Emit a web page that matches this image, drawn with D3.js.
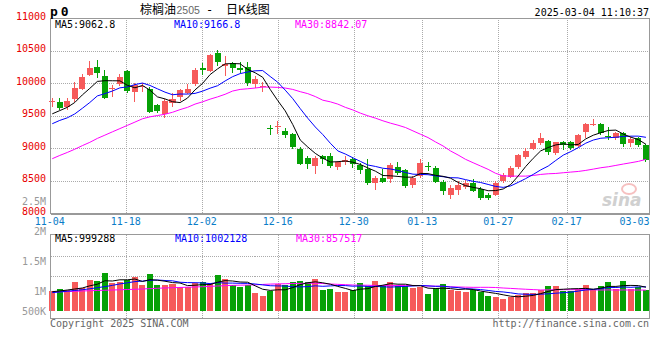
<!DOCTYPE html>
<html><head><meta charset="utf-8">
<script src="https://cdn.jsdelivr.net/npm/d3@7"></script>
<style>body{margin:0;background:#fff}svg{display:block}</style>
</head><body>
<svg id="c" width="660" height="360"></svg>
<script>
const dates = ["11-04","11-05","11-06","11-07","11-08","11-11","11-12","11-13","11-14","11-15","11-18","11-19","11-20","11-21","11-22","11-25","11-26","11-27","11-28","11-29",
"12-02","12-03","12-04","12-05","12-06","12-09","12-10","12-11","12-12","12-13","12-16","12-17","12-18","12-19","12-20","12-23","12-24","12-25","12-26","12-27","12-30","12-31",
"01-02","01-03","01-06","01-07","01-08","01-09","01-10","01-13","01-14","01-15","01-16","01-17","01-20","01-21","01-22","01-23","01-24","01-27",
"02-05","02-06","02-07","02-10","02-11","02-12","02-13","02-14","02-17","02-18","02-19","02-20","02-21","02-24","02-25","02-26","02-27","02-28","03-03","03-04"];
const open  = [9715,9715,9635,9755,9906,10133,10248,10118,9912,9992,10193,9866,9950,9906,9670,9529,9690,9796,9856,9992,10228,10183,10460,10260,10309,10243,10248,9982,9950,9310,9330,9267,9227,8986,8850,8734,8885,8885,8719,8805,8840,8737,8675,8469,8546,8521,8717,8660,8428,8572,8732,8701,8484,8289,8366,8407,8459,8381,8289,8289,8500,8562,8706,8871,8985,9077,9113,8923,9093,9093,9036,9258,9365,9376,9185,9155,9242,9088,9155,9052];
const high  = [9780,9770,9780,10017,10138,10344,10359,10208,9972,10138,10208,10007,10007,9941,9680,9755,9856,9916,9982,10243,10319,10450,10520,10420,10334,10334,10324,10107,10017,9363,9413,9313,9232,9026,8875,8875,8890,8925,8810,8875,8870,8778,8830,8572,8675,8778,8789,8675,8572,8830,8789,8727,8520,8443,8495,8505,8531,8407,8314,8495,8624,8727,8912,9000,9129,9232,9129,9103,9119,9119,9215,9387,9448,9387,9325,9258,9258,9170,9180,9067];
const low   = [9640,9590,9590,9715,9891,10118,10083,9756,9796,9957,9856,9715,9866,9549,9544,9464,9629,9730,9841,9957,10133,10168,10268,10107,10158,10158,9957,9931,9866,9212,9227,9162,8986,8750,8684,8599,8760,8699,8659,8750,8690,8598,8443,8366,8469,8459,8582,8392,8392,8546,8650,8459,8289,8222,8289,8376,8325,8211,8211,8273,8469,8536,8686,8830,8974,9051,8897,8897,8974,8974,9026,9155,9345,9206,9129,9129,9016,9016,9026,8794];
const close = [9725,9625,9725,9930,10102,10228,10158,9781,9925,10098,9881,9972,9960,9564,9579,9725,9755,9891,9916,10208,10218,10435,10334,10300,10233,10198,10007,10072,9957,9295,9342,9212,9026,8760,8760,8850,8840,8734,8785,8815,8755,8665,8469,8536,8479,8737,8613,8417,8536,8768,8722,8479,8340,8392,8443,8469,8350,8237,8237,8459,8588,8691,8897,8964,9088,9165,8948,9093,9052,9000,9206,9376,9376,9242,9175,9232,9067,9139,9052,8820];
const ma5  = [9530,9580,9630,9705,9821,9922,10029,10040,10039,10038,9969,9931,9967,9895,9791,9760,9717,9703,9773,9899,9998,10134,10222,10299,10304,10300,10214,10162,10093,9906,9735,9576,9366,9127,9020,8922,8847,8789,8794,8805,8786,8751,8698,8648,8581,8577,8567,8556,8556,8614,8611,8584,8569,8540,8475,8425,8399,8378,8347,8350,8374,8442,8574,8720,8846,8961,9012,9052,9069,9052,9060,9145,9202,9240,9275,9280,9218,9171,9133,9062];
const ma10 = [9378,9429,9469,9529,9615,9705,9806,9841,9881,9930,9945,9980,10004,9967,9915,9864,9824,9835,9834,9845,9879,9925,9963,10036,10102,10149,10174,10192,10196,10105,10017,9895,9764,9610,9463,9328,9211,9078,8960,8912,8854,8799,8743,8721,8693,8682,8659,8627,8602,8598,8594,8576,8563,8548,8545,8518,8492,8474,8444,8413,8399,8421,8476,8534,8598,8668,8727,8813,8895,8949,9010,9079,9127,9155,9163,9170,9182,9187,9187,9169];
const ma30 = [8840,8890,8936,8986,9041,9092,9152,9202,9253,9303,9353,9403,9454,9484,9504,9524,9554,9595,9630,9680,9715,9756,9791,9831,9881,9906,9916,9927,9942,9942,9937,9927,9906,9871,9841,9796,9740,9715,9680,9630,9590,9541,9500,9464,9423,9387,9356,9320,9268,9216,9165,9098,9036,8959,8897,8830,8778,8727,8676,8615,8575,8572,8572,8572,8582,8598,8608,8613,8624,8634,8644,8660,8680,8701,8716,8737,8758,8778,8799,8830];
const volume = [828000,911000,869000,1201000,952000,1283000,1242000,1587000,1145000,1201000,1283000,1408000,1076000,1532000,1076000,1076000,1118000,994000,994000,1159000,1201000,1118000,1490000,1325000,1076000,994000,1076000,745000,621000,828000,1118000,1076000,1201000,1242000,1201000,1325000,869000,911000,787000,787000,869000,1159000,1035000,1242000,1035000,1201000,1035000,1035000,966000,994000,704000,952000,1118000,869000,814000,787000,869000,787000,621000,580000,497000,580000,662000,745000,745000,869000,1035000,1035000,828000,828000,911000,1076000,869000,1035000,1201000,911000,1242000,911000,994000,869000];
const volMa5  = [800000,828000,869000,911000,952000,1043000,1109000,1253000,1242000,1292000,1292000,1325000,1223000,1300000,1275000,1234000,1176000,1159000,1052000,1068000,1093000,1093000,1192000,1259000,1242000,1201000,1192000,1043000,902000,853000,878000,878000,969000,1093000,1168000,1209000,1168000,1110000,1019000,936000,845000,903000,927000,1018000,1068000,1134000,1110000,1110000,1054000,1046000,947000,930000,947000,927000,891000,908000,891000,825000,776000,729000,671000,613000,588000,613000,646000,720000,811000,886000,902000,919000,927000,936000,902000,944000,1018000,1018000,1052000,1060000,1052000,985000];
const volMa10 = [760000,790000,820000,850000,880000,920000,966000,1010000,1060000,1122000,1167000,1217000,1238000,1271000,1283000,1263000,1250000,1191000,1176000,1172000,1163000,1134000,1176000,1155000,1155000,1147000,1143000,1118000,1081000,1047000,1039000,1035000,1006000,998000,1010000,1043000,1023000,1039000,1056000,1052000,1027000,1035000,1019000,1019000,1002000,990000,1006000,1019000,1036000,1057000,1041000,1020000,1028000,991000,969000,927000,911000,886000,852000,810000,789000,752000,707000,694000,687000,696000,712000,737000,758000,782000,824000,873000,894000,923000,969000,973000,994000,981000,998000,1002000];
const volMa30 = [787000,795000,805000,815000,828000,840000,850000,860000,869000,880000,890000,900000,911000,925000,940000,955000,965000,975000,985000,995000,1005000,1020000,1035000,1050000,1062000,1070000,1076000,1085000,1100000,1114000,1123000,1129000,1140000,1141000,1150000,1151000,1139000,1116000,1104000,1090000,1076000,1068000,1067000,1057000,1056000,1060000,1057000,1059000,1058000,1052000,1036000,1030000,1018000,1002000,994000,987000,980000,981000,981000,973000,952000,936000,918000,901000,886000,871000,876000,880000,882000,883000,885000,882000,876000,869000,875000,865000,872000,868000,869000,865000];
const priceTicks = [8000,8500,9000,9500,10000,10500,11000];
const volTicks = [2500000,2000000,1500000,1000000,500000];
const volTickLabels = ["2.5M","2M","1.5M","1M","500K"];
const xTickDates = ["11-04","11-18","12-02","12-16","12-30","01-13","01-27","02-17","03-03"];
const gridDates = ["11-18","12-02","12-16","12-30","01-13","01-27","02-17"];
const legendPrice = [["MA5:9062.8","#000"],["MA10:9166.8","#0000ff"],["MA30:8842.07","#ff00ff"]];
const legendVol = [["MA5:999288","#000"],["MA10:1002128","#0000ff"],["MA30:857517","#ff00ff"]];

const UP = "#f65a5a", DOWN = "#06a106", GRID = "#aaa", BORDER = "#999";
const MONO = "DejaVu Sans Mono, Liberation Mono, monospace";
const svg = d3.select("#c");
const idx = d3.range(dates.length);

const pTop = 18.3, pBot = 213.3, vTop = 234.7, vBase = 311, vBot = 318, L = 50.5, R = 649.5;
const x = d3.scaleBand().domain(idx).range([48.5, 649.7]).paddingInner(0.2).paddingOuter(0.1);
const cx = i => x(i) + x.bandwidth() / 2;
const gx = d3.scaleLinear().domain([0, dates.length - 1]).range([49.7, 650.3]);
const py = d3.scaleLinear().domain([8000, 11000]).range([pBot, pTop]);
const vy = d3.scaleLinear().domain([0, 3160000]).range([vBase, vTop]);
const vLabelY = d3.scaleLinear().domain([500000, 2500000]).range([321, 200.7]);

// grids
const g = svg.append("g").attr("shape-rendering", "crispEdges");
g.selectAll(".hp").data(priceTicks.slice(1, -1)).join("line")
  .attr("x1", L).attr("x2", R).attr("y1", d => Math.round(py(d)) + 0.5).attr("y2", d => Math.round(py(d)) + 0.5)
  .attr("stroke", GRID).attr("stroke-dasharray", "1,1");
const vFr = [0.25, 0.5];
g.selectAll(".hv").data(vFr).join("line")
  .attr("x1", L).attr("x2", R)
  .attr("y1", f => Math.round(vTop + (vBot - vTop) * f) + 0.5).attr("y2", f => Math.round(vTop + (vBot - vTop) * f) + 0.5)
  .attr("stroke", GRID).attr("stroke-dasharray", "1,1");
const gridIdx = gridDates.map(d => dates.indexOf(d));
[[pTop, pBot], [vTop, vBot]].forEach(([a, b]) => {
  g.append("g").selectAll("line").data(gridIdx).join("line")
    .attr("x1", i => Math.round(gx(i)) + 0.5).attr("x2", i => Math.round(gx(i)) + 0.5)
    .attr("y1", a).attr("y2", b).attr("stroke", GRID).attr("stroke-dasharray", "1,1");
});

// volume bars
svg.append("g").attr("shape-rendering", "crispEdges").selectAll("rect").data(idx).join("rect")
  .attr("x", i => x(i)).attr("width", x.bandwidth())
  .attr("y", i => vy(volume[i])).attr("height", i => vBase - vy(volume[i]))
  .attr("fill", i => close[i] >= open[i] ? UP : DOWN);

// candles
const cg = svg.append("g").attr("shape-rendering", "crispEdges");
cg.selectAll("line").data(idx).join("line")
  .attr("x1", i => Math.floor(cx(i)) + 0.5).attr("x2", i => Math.floor(cx(i)) + 0.5)
  .attr("y1", i => py(high[i])).attr("y2", i => py(low[i]))
  .attr("stroke", i => close[i] >= open[i] ? UP : DOWN);
cg.selectAll("rect").data(idx).join("rect")
  .attr("x", i => x(i)).attr("width", x.bandwidth())
  .attr("y", i => py(Math.max(open[i], close[i])))
  .attr("height", i => Math.max(1.2, Math.abs(py(open[i]) - py(close[i]))))
  .attr("fill", i => close[i] >= open[i] ? UP : DOWN);

// MA lines
const lineP = arr => d3.line().x(i => cx(i)).y(i => py(arr[i]))(idx);
const lineV = arr => d3.line().x(i => cx(i)).y(i => vy(arr[i]))(idx);
[[ma30, "#ff00ff"], [ma10, "#0000ff"], [ma5, "#000"]].forEach(([a, c]) =>
  svg.append("path").attr("d", lineP(a)).attr("fill", "none").attr("stroke", c).attr("stroke-width", 1));
[[volMa30, "#ff00ff"], [volMa10, "#0000ff"], [volMa5, "#000"]].forEach(([a, c]) =>
  svg.append("path").attr("d", lineV(a)).attr("fill", "none").attr("stroke", c).attr("stroke-width", 1));

// borders
const b = svg.append("g").attr("shape-rendering", "crispEdges").attr("fill", "none").attr("stroke", BORDER);
b.append("rect").attr("x", L).attr("y", pTop).attr("width", R - L).attr("height", pBot - pTop);
b.append("line").attr("x1", L).attr("x2", R).attr("y1", pBot + 0.5).attr("y2", pBot + 0.5).attr("stroke-width", 2);
b.append("rect").attr("x", L).attr("y", vTop).attr("width", R - L).attr("height", vBot - vTop);
b.append("line").attr("x1", L - 0.5).attr("x2", L - 0.5).attr("y1", pTop).attr("y2", pBot);
b.append("line").attr("x1", L - 0.5).attr("x2", L - 0.5).attr("y1", vTop).attr("y2", vBot);

// price axis labels
svg.append("g").selectAll("text").data(priceTicks).join("text")
  .attr("x", 46).attr("y", d => py(d) + 1.5).attr("text-anchor", "end")
  .attr("font-family", MONO).attr("font-size", 10).attr("fill", "#e80000").text(d => d);
// volume axis labels
svg.append("g").selectAll("text").data(volTicks).join("text")
  .attr("x", 46).attr("y", d => Math.min(vLabelY(d), vBase) + 4.2).attr("text-anchor", "end")
  .attr("font-family", MONO).attr("font-size", 10).attr("fill", "#999")
  .text((d, i) => volTickLabels[i]);
// x labels
svg.append("g").selectAll("text").data(xTickDates).join("text")
  .attr("x", d => Math.min(gx(dates.indexOf(d)), R - 15)).attr("y", 224.8).attr("text-anchor", "middle")
  .attr("font-family", MONO).attr("font-size", 10).attr("fill", "#0a7dc8").text(d => d);

// legends
const lx = [55, 174, 295];
svg.append("g").selectAll("text").data(legendPrice).join("text")
  .attr("x", (d, i) => lx[i]).attr("y", 27.6).attr("font-family", MONO).attr("font-size", 10)
  .attr("fill", d => d[1]).text(d => d[0]);
svg.append("g").selectAll("text").data(legendVol).join("text")
  .attr("x", (d, i) => lx[i] + (i ? 1 : 0)).attr("y", 241.9).attr("font-family", MONO).attr("font-size", 10)
  .attr("fill", d => d[1]).text(d => d[0]);

// header
svg.append("text").attr("x", 50).attr("y", 15.5).attr("font-family", MONO).attr("font-weight", "bold")
  .attr("font-size", 13).attr("letter-spacing", 3).attr("fill", "#000").text("p0");
const t = svg.append("text").attr("y", 14).attr("font-family", "Noto Sans CJK SC").attr("font-size", 12).attr("fill", "#000");
t.append("tspan").attr("x", 140).text("棕榈油");
t.append("tspan").attr("x", 176.5).attr("font-family", "Liberation Sans, Arial").attr("font-size", 10.5).attr("fill", "#666").text("2505");
t.append("tspan").attr("x", 206).attr("font-family", MONO).text("-");
t.append("tspan").attr("x", 226).text("日K线图");
svg.append("text").attr("x", 649).attr("y", 15.7).attr("text-anchor", "end").attr("font-family", MONO)
  .attr("font-size", 10).attr("fill", "#000").text("2025-03-04 11:10:37");

// footer
svg.append("text").attr("x", 50).attr("y", 327.4).attr("font-family", MONO).attr("font-size", 10).attr("fill", "#666").text("Copyright 2025 SINA.COM");
svg.append("text").attr("x", 649).attr("y", 327.4).attr("text-anchor", "end").attr("font-family", MONO).attr("font-size", 10).attr("fill", "#666").text("http://finance.sina.com.cn");

// watermark
svg.append("ellipse").attr("cx", 629).attr("cy", 189).attr("rx", 7).attr("ry", 5).attr("fill", "none").attr("stroke", "#f4b0b0").attr("stroke-width", 2).attr("opacity", 0.8);
svg.append("text").attr("x", 602).attr("y", 206).attr("font-family", "DejaVu Sans").attr("font-style", "italic").attr("font-weight", "bold")
  .attr("font-size", 17).attr("fill", "#c8c8c8").attr("opacity", 0.85).text("sina");
</script>
</body></html>
